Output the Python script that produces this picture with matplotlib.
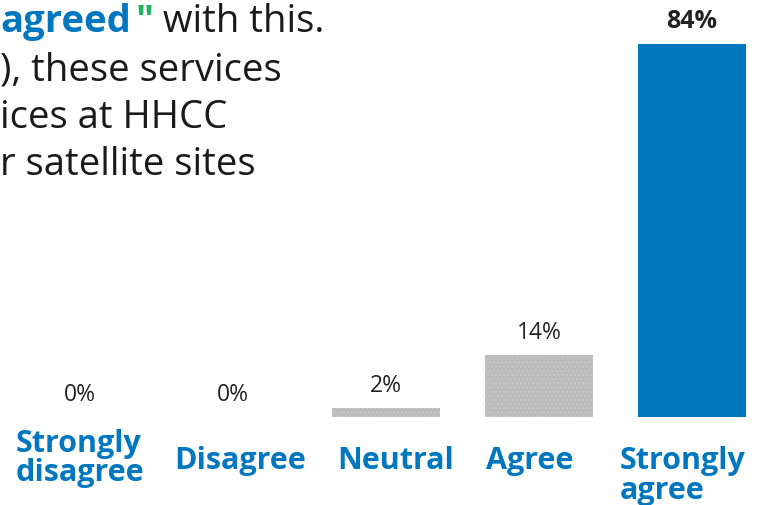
import matplotlib
matplotlib.use("Agg")
import matplotlib.pyplot as plt

# survey response shares (%)
categories = ["Strongly\ndisagree", "Disagree", "Neutral", "Agree", "Strongly\nagree"]
values = [0, 0, 2, 14, 84]
value_labels = ["0%", "0%", "2%", "14%", "84%"]

BLUE = "#0077BF"
GRAY = "#BBBBBB"
GREEN = "#1FB35A"

fig = plt.figure(figsize=(7.59, 5.06), dpi=100)
ax = fig.add_axes([0, 0, 1, 1])
ax.set_xlim(-0.523, 4.438)
ax.set_ylim(-19.8, 94.1)
ax.axis("off")

x = list(range(len(values)))
colors = [GRAY] * 4 + [BLUE]
bars = ax.bar(x, values, width=0.71, color=colors, linewidth=0)
for b in bars[:4]:
    b.set_hatch("....")
    b.set_edgecolor("#C9C9C9")
    b.set_linewidth(0)

for i, (v, lab) in enumerate(zip(values, value_labels)):
    bold = i == 4
    ax.annotate(lab, (i, v), xytext=(0, 8), textcoords="offset points",
                ha="center", va="bottom", fontsize=18 if bold else 16.5,
                family="Open Sans", fontweight="bold" if bold else "normal",
                color="#222222")

# category names under the bars (small horizontal nudges in pixels)
label_top = [-2.4, -6.4, -6.4, -6.4, -6.4]
label_dx = [0, 7, 10, -9, -9]
for i, (c, yt, dx) in enumerate(zip(categories, label_top, label_dx)):
    ax.annotate(c, (i, yt), xytext=(dx * 0.72, 0), textcoords="offset points",
                ha="center", va="top", multialignment="left",
                fontsize=22, fontweight="bold", family="Open Sans", color=BLUE,
                linespacing=0.98)

# headline text at top left
fs = 27.5
t1 = fig.text(0.0, 1 - 32 / 506, "agreed", fontsize=fs, fontweight="bold",
              family="Open Sans", color=BLUE, va="baseline")
t2 = ax.annotate('"', xy=(1, 0), xycoords=t1, xytext=(3, 0), textcoords="offset points",
                 fontsize=fs, fontweight="bold", family="Open Sans", color=GREEN,
                 va="bottom")
ax.annotate(" with this.", xy=(1, 0), xycoords=t2, fontsize=fs, family="Open Sans",
            color="#1A1A1A", va="bottom")
fig.text(0.0, 1 - 80 / 506, "), these services", fontsize=fs, family="Open Sans",
         color="#1A1A1A", va="baseline")
fig.text(0.0, 1 - 128 / 506, "ices at HHCC", fontsize=fs, family="Open Sans",
         color="#1A1A1A", va="baseline")
fig.text(0.0, 1 - 175 / 506, "r satellite sites", fontsize=fs, family="Open Sans",
         color="#1A1A1A", va="baseline")

fig.savefig("out.png", dpi=100)
